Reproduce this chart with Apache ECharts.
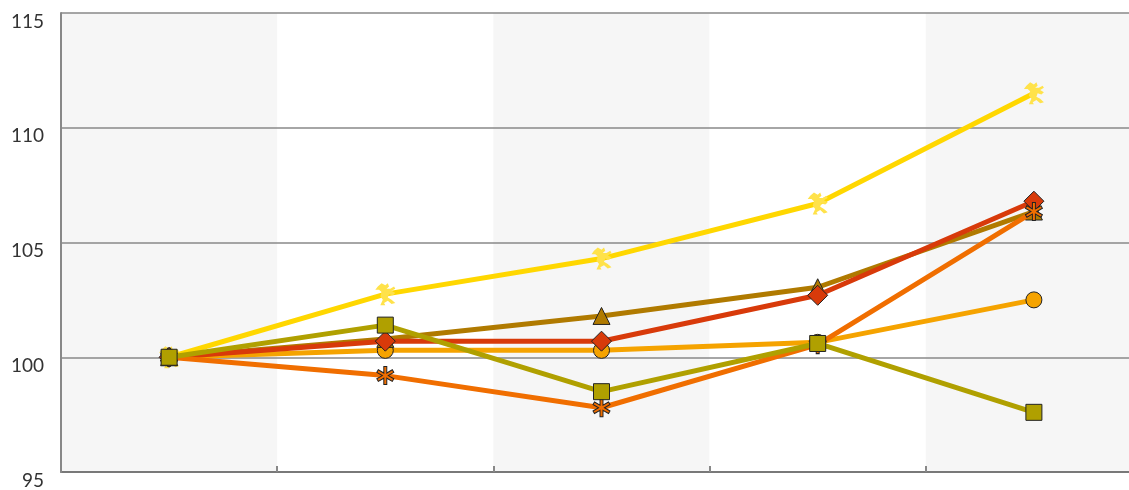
<!DOCTYPE html>
<html>
<head>
<meta charset="utf-8">
<script src="https://cdn.jsdelivr.net/npm/echarts@6/dist/echarts.min.js"></script>
<style>html,body{margin:0;padding:0;background:#fff;}#c{width:1129px;height:490px;}</style>
</head>
<body>
<div id="c"></div>
<script>
var categories = ['1', '2', '3', '4', '5'];
var yTicks = [95, 100, 105, 110, 115];
var lionSeries = [100, 102.75, 104.3, 106.7, 111.5];
var circleSeries = [100, 100.3, 100.3, 100.65, 102.5];
var triangleSeries = [100, 100.8, 101.8, 103.05, 106.35];
var diamondSeries = [100, 100.7, 100.7, 102.7, 106.8];
var squareSeries = [100, 101.4, 98.5, 100.6, 97.6];
var asteriskSeries = [100, 99.2, 97.8, 100.55, 106.35];

var asterisk = 'path://M8.5,1 L11.5,1 L11.5,7.402 L17.044,4.201 L18.544,6.799 L13,10 L18.544,13.201 L17.044,15.799 L11.5,12.598 L11.5,19 L8.5,19 L8.5,12.598 L2.956,15.799 L1.456,13.201 L7,10 L1.456,6.799 L2.956,4.201 L8.5,7.402 Z';
var lion = 'path://M3,4 L6,1 L9,3 L11,1 L12,4 L10,6 L13,6 L16,4 L17,6 L14,8 L17,10 L15,12 L12,11 L11,14 L14,16 L17,19 L14,20 L11,17 L8,19 L9,21 L5,21 L7,16 L5,13 L6,9 L4,7 L1,7 Z';

function mk(name, data, color, symbol, size, z, border) {
  return {
    name: name, type: 'line', data: data, z: z,
    symbol: symbol, symbolSize: size, showAllSymbol: true,
    lineStyle: {color: color, width: 5},
    itemStyle: {color: border === false ? '#FFE24A' : color, borderColor: border === false ? '#FFE24A' : '#222', borderWidth: border === false ? 0 : 1, opacity: 1},
    emphasis: {disabled: true}, animation: false
  };
}

var chart = echarts.init(document.getElementById('c'));
chart.setOption({
  animation: false,
  grid: {left: 61, top: 13, width: 1081, height: 459, containLabel: false, outerBoundsMode: 'none'},
  xAxis: {
    type: 'category', data: categories, boundaryGap: true, z: 0,
    axisLine: {show: true, lineStyle: {color: '#111', width: 1.5}},
    axisTick: {show: true, inside: true, length: 6, lineStyle: {color: '#888', width: 2}},
    axisLabel: {show: false},
    splitLine: {show: false},
    splitArea: {show: true, areaStyle: {color: ['#f6f6f6', '#ffffff']}}
  },
  yAxis: {
    type: 'value', min: yTicks[0], max: yTicks[yTicks.length - 1], interval: 5, z: 1,
    axisLine: {show: true, lineStyle: {color: '#888', width: 2}},
    axisTick: {show: false},
    axisLabel: {fontFamily: 'Lato', fontSize: 19, color: '#333', margin: 17, verticalAlign: 'top', padding: [-1, 0, 0, 0]},
    splitLine: {show: true, lineStyle: {color: '#888', width: 1.5}}
  },
  series: [
    mk('lion', lionSeries, '#FFD700', lion, [20, 22], 2, false),
    mk('circle', circleSeries, '#F5A300', 'circle', 16, 3),
    mk('triangle', triangleSeries, '#B07A00', 'triangle', 17, 4),
    mk('diamond', diamondSeries, '#D83A0A', 'diamond', 20, 5),
    mk('asterisk', asteriskSeries, '#F06E00', asterisk, [17, 18], 6),
    mk('square', squareSeries, '#B0A000', 'rect', 16, 7)
  ]
});
</script>
</body>
</html>
